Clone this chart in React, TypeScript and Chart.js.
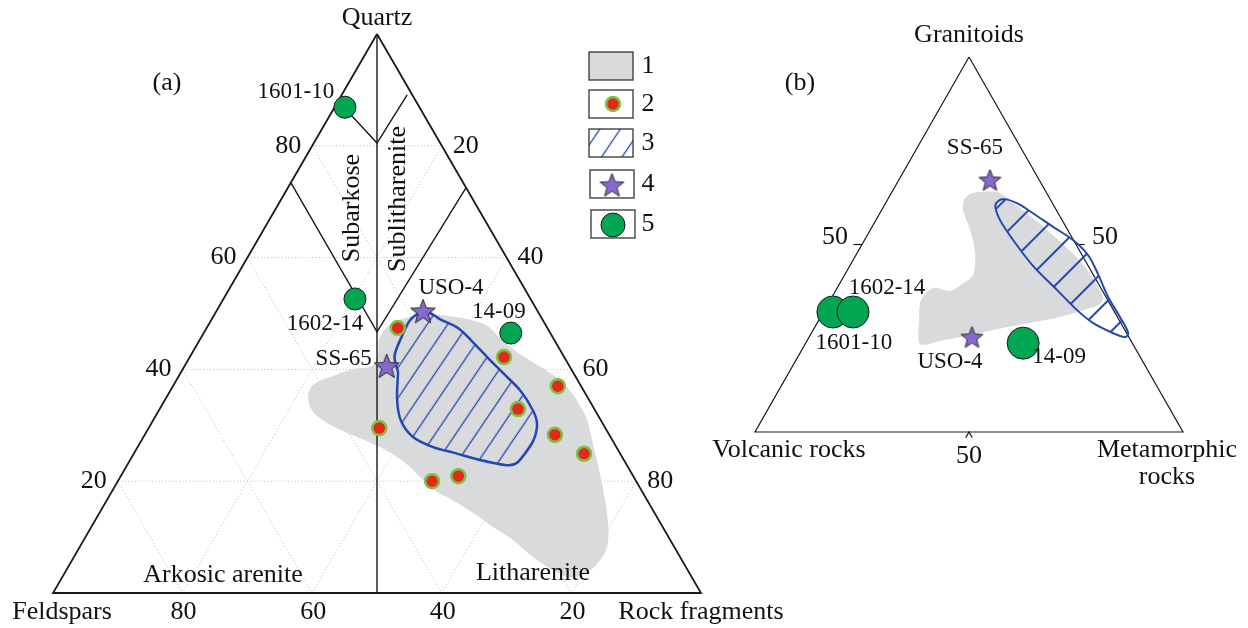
import React, { useEffect, useRef } from "react";
import { Chart, registerables } from "chart.js";

Chart.register(...registerables);

// ===================== DATA =====================
// Panel (a): compositions as [Quartz, Feldspars, Rock fragments] in %
const QFR_TICKS = [20, 40, 60, 80];
const QFR_VERTEX_LABELS = ["Quartz", "Feldspars", "Rock fragments"];
const QFR_FIELD_NAMES = ["Subarkose", "Sublitharenite", "Arkosic arenite", "Litharenite"];

const QFR_CENTER_LINE = [[100, 0, 0], [0, 50, 50]];
const QFR_UPPER_V = [[88, 12, 0], [80.5, 9.75, 9.75], [89.1, 0.8, 10.1]];
const QFR_LOWER_V = [[73.4, 26.6, 0], [46.7, 26.65, 26.65], [72.5, 0, 27.5]];

// field 1 (grey area)
const FIELD1_QFR = [
  [35.1, 43.1, 21.8], [37.2, 41.3, 21.5], [38.8, 37.4, 23.8], [40.1, 33.7, 26.3], [40.6, 30.5, 28.9],
  [42.6, 28.6, 28.9], [45.3, 27.1, 27.7], [47.4, 24.9, 27.7], [48.7, 22.4, 28.9], [49.6, 19.7, 30.8],
  [49.9, 16.9, 33.2], [49.6, 14.4, 36.0], [49.0, 11.6, 39.4], [47.8, 9.1, 43.1], [45.6, 8.2, 46.2],
  [43.1, 6.9, 50.0], [41.3, 5.3, 53.4], [39.0, 3.3, 57.7], [36.9, 2.3, 60.9], [34.5, 1.9, 63.6],
  [30.9, 2.1, 66.9], [26.8, 3.3, 69.9], [21.5, 4.9, 73.7], [16.6, 6.5, 76.9], [11.8, 8.4, 79.8],
  [8.2, 10.4, 81.4], [5.4, 13.2, 81.4], [3.2, 16.6, 80.2], [2.9, 19.2, 77.9], [4.1, 20.8, 75.1],
  [6.4, 22.7, 70.9], [9.5, 24.3, 66.3], [11.8, 26.2, 62.0], [14.3, 28.0, 57.7], [16.6, 30.0, 53.4],
  [18.1, 31.7, 50.2], [20.2, 32.8, 47.0], [22.5, 33.6, 43.8], [24.3, 34.7, 40.9], [26.1, 36.5, 37.4],
  [27.7, 38.8, 33.5], [29.2, 41.1, 29.7], [30.9, 42.9, 26.2], [32.7, 43.7, 23.6],
];
// field 3 (hatched area)
const FIELD3_QFR = [
  [48.8, 20.5, 30.7], [50.1, 18.3, 31.6], [50.1, 16.8, 33.1], [49.0, 15.8, 35.2], [47.4, 13.8, 38.8],
  [45.3, 12.9, 41.9], [42.2, 11.9, 45.9], [39.4, 10.9, 49.8], [36.3, 9.8, 53.9], [32.7, 9.6, 57.7],
  [30.2, 10.2, 59.6], [27.2, 12.3, 60.5], [24.2, 15.6, 60.3], [23.1, 17.2, 59.8], [22.9, 18.8, 58.3],
  [23.8, 22.2, 54.0], [25.0, 25.4, 49.5], [26.1, 28.3, 45.6], [27.9, 30.5, 41.6], [30.8, 30.9, 38.3],
  [34.5, 29.6, 35.8], [39.5, 27.0, 33.5], [43.1, 26.5, 32.0], [46.3, 22.8, 30.8],
];
// field 2 (red dots)
const FIELD2_QFR = [
  [47.4, 23.1, 29.5], [42.2, 9.3, 48.5], [37.0, 3.6, 59.4], [32.9, 11.8, 55.3], [29.5, 34.9, 35.6],
  [28.3, 8.4, 63.3], [24.9, 5.6, 69.5], [20.9, 27.0, 52.1], [20.0, 31.5, 48.5],
];
// field 5 (green circles) and 4 (stars)
const GREEN_SAMPLES = ["1601-10", "1602-14", "14-09"];
const GREEN_QFR = [[86.9, 11.5, 1.6], [52.6, 27.1, 20.3], [46.5, 6.1, 47.4]];
const STAR_SAMPLES = ["USO-4", "SS-65"];
const STAR_QFR = [[50.4, 17.7, 31.9], [40.6, 28.2, 31.2]];

// Panel (b): compositions as [Granitoids, Volcanic rocks, Metamorphic rocks] in %
const GVM_TICKS = [50];
const GVM_VERTEX_LABELS = ["Granitoids", "Volcanic rocks", "Metamorphic", "rocks"];
const FIELD1_GVM = [
  [64.0, 15.4, 20.6], [64.0, 11.5, 24.5], [62.4, 9.9, 27.7], [58.4, 7.3, 34.4], [53.9, 4.8, 41.3],
  [49.1, 2.6, 48.4], [44.8, 1.0, 54.2], [40.3, 0.5, 59.2], [36.0, 0.7, 63.3], [34.1, 2.3, 63.5],
  [32.5, 7.1, 60.4], [30.7, 13.4, 55.9], [29.3, 20.4, 50.3], [28.0, 27.1, 44.9], [26.4, 34.2, 39.4],
  [25.3, 39.4, 35.2], [24.3, 44.6, 31.1], [23.5, 49.7, 26.8], [29.9, 46.7, 23.4], [35.2, 43.6, 21.2],
  [38.4, 39.2, 22.4], [37.6, 35.6, 26.8], [39.5, 31.9, 28.6], [41.9, 28.1, 30.0], [47.7, 24.7, 27.5],
  [53.9, 22.8, 23.3], [59.2, 21.8, 19.0], [61.9, 20.2, 17.9], [63.5, 18.0, 18.5],
];
const FIELD3_GVM = [
  [61.3, 12.8, 25.9], [62.1, 10.8, 27.1], [61.1, 8.3, 30.7], [58.4, 5.9, 35.8], [54.7, 3.0, 42.3],
  [51.2, 0.1, 48.7], [47.2, -1.4, 54.2], [42.1, -1.2, 59.1], [36.0, -0.5, 64.5], [30.7, -0.6, 70.0],
  [26.4, -0.4, 74.0], [25.3, 0.9, 73.8], [26.4, 3.2, 70.4], [29.1, 6.5, 64.4], [32.5, 8.5, 59.0],
  [37.9, 10.5, 51.6], [44.3, 12.9, 42.8], [51.2, 14.1, 34.7], [56.5, 14.5, 29.0], [59.7, 13.9, 26.2],
];
const GREEN_GVM = [[32.0, 65.8, 2.2], [32.0, 61.1, 6.9], [23.7, 25.5, 50.8]];
const STAR_GVM = [[25.3, 36.6, 38.0], [67.2, 11.5, 21.3]];

const LEGEND_LABELS = ["1", "2", "3", "4", "5"];

// ===================== LAYOUT / STYLE =====================
const W = 1248;
const H = 628;
type P2 = [number, number];
type Tri = { top: P2; left: P2; right: P2 };
const TRI_A: Tri = { top: [377, 34], left: [53, 593], right: [701, 593] };
const TRI_B: Tri = { top: [969, 57], left: [755, 432], right: [1183, 432] };

const FONT = "'Liberation Serif', 'Times New Roman', serif";
const BIG = 26;
const SMALL = 23;
const GREY_FILL = "#d9dadb";
const BLUE = "#2448b2";
const RED = "#e2291c";
const RING = "#7cc144";
const GREEN = "#00a651";
const STAR_FILL = "#8768cc";

const LABEL_OFFSET_A: Record<string, P2> = {
  "1601-10": [-49, -15], "1602-14": [-30, 25], "14-09": [-12, -21], "USO-4": [28, -23], "SS-65": [-43, -7],
};
const LABEL_OFFSET_B: Record<string, P2> = {
  "1601-10": [21, 31], "1602-14": [34, -24], "14-09": [36, 14], "USO-4": [-22, 25], "SS-65": [-15, -32],
};

const toXY = (tri: Tri, c: number[]) => {
  const s = c[0] + c[1] + c[2];
  const a = c[0] / s, b = c[1] / s, d = c[2] / s;
  return {
    x: a * tri.top[0] + b * tri.left[0] + d * tri.right[0],
    y: a * tri.top[1] + b * tri.left[1] + d * tri.right[1],
  };
};
const pts = (tri: Tri, arr: number[][]) => arr.map((c) => toXY(tri, c));
// closed outline starting at index k (so the seam falls on a smooth stretch)
const loopFrom = (arr: number[][], k: number) => {
  const r = [...arr.slice(k), ...arr.slice(0, k)];
  return [...r, r[0]];
};

function makeHatch(ctx: CanvasRenderingContext2D, spacing: number, angle: number, width: number) {
  const c = document.createElement("canvas");
  c.width = 16;
  c.height = Math.round(spacing);
  const g = c.getContext("2d")!;
  g.strokeStyle = BLUE;
  g.lineWidth = width;
  g.beginPath();
  g.moveTo(0, c.height / 2);
  g.lineTo(16, c.height / 2);
  g.stroke();
  const p = ctx.createPattern(c, "repeat")!;
  p.setTransform(new DOMMatrix().rotateSelf(-angle));
  return p;
}

function makeStar(R: number, r: number) {
  const size = Math.ceil(R * 2 + 4);
  const c = document.createElement("canvas");
  c.width = size;
  c.height = size;
  const g = c.getContext("2d")!;
  const cx = size / 2, cy = size / 2 + 1;
  g.beginPath();
  for (let i = 0; i < 10; i++) {
    const rad = i % 2 === 0 ? R : r;
    const ang = -Math.PI / 2 + (i * Math.PI) / 5;
    const x = cx + rad * Math.cos(ang), y = cy + rad * Math.sin(ang);
    if (i === 0) g.moveTo(x, y);
    else g.lineTo(x, y);
  }
  g.closePath();
  g.fillStyle = STAR_FILL;
  g.fill();
  g.strokeStyle = "#2a2a2a";
  g.lineWidth = 1;
  g.stroke();
  return c;
}

const lineDs = (data: any[], color: string, width: number, order: number, dash: number[] = []) => ({
  data,
  showLine: true,
  borderColor: color,
  borderWidth: width,
  borderDash: dash,
  pointRadius: 0,
  fill: false,
  tension: 0,
  order,
});

export default function App() {
  const ref = useRef<HTMLCanvasElement>(null);

  useEffect(() => {
    const canvas = ref.current!;
    const ctx0 = canvas.getContext("2d")!;
    const hatchA = makeHatch(ctx0, 17, 56, 1.3);
    const hatchB = makeHatch(ctx0, 24, 45, 2);
    const starA = makeStar(13, 5.5);
    const starB = makeStar(11.5, 5);
    const starLegend = makeStar(12.5, 5.3);

    const datasets: any[] = [];
    // grid lines panel (a)
    QFR_TICKS.forEach((k) => {
      const g = [
        [[k, 100 - k, 0], [k, 0, 100 - k]],
        [[100 - k, k, 0], [0, k, 100 - k]],
        [[100 - k, 0, k], [0, 100 - k, k]],
      ];
      g.forEach((seg) => datasets.push(lineDs(pts(TRI_A, seg), "#c2c2c2", 1, 100, [1.2, 2.2])));
    });
    // fields
    datasets.push({
      data: pts(TRI_A, loopFrom(FIELD1_QFR, 10)), showLine: true, borderWidth: 0, borderColor: "rgba(0,0,0,0)",
      backgroundColor: GREY_FILL, fill: "shape", pointRadius: 0, tension: 0.3, order: 90,
    });
    datasets.push({
      data: pts(TRI_A, loopFrom(FIELD3_QFR, 21)), showLine: true, borderWidth: 2.5, borderColor: BLUE,
      backgroundColor: hatchA, fill: "shape", pointRadius: 0, tension: 0.3, order: 80,
    });
    datasets.push({
      data: pts(TRI_B, loopFrom(FIELD1_GVM, 14)), showLine: true, borderWidth: 0, borderColor: "rgba(0,0,0,0)",
      backgroundColor: GREY_FILL, fill: "shape", pointRadius: 0, tension: 0.3, order: 90,
    });
    // classification lines
    datasets.push(lineDs(pts(TRI_A, QFR_CENTER_LINE), "#1a1a1a", 1.4, 70));
    datasets.push(lineDs(pts(TRI_A, QFR_UPPER_V), "#1a1a1a", 1.4, 70));
    datasets.push(lineDs(pts(TRI_A, QFR_LOWER_V), "#1a1a1a", 1.4, 70));
    // triangle edges
    datasets.push(lineDs(pts(TRI_A, [[100, 0, 0], [0, 100, 0], [0, 0, 100], [100, 0, 0]]), "#1a1a1a", 1.8, 60));
    datasets.push(lineDs(pts(TRI_B, [[100, 0, 0], [0, 100, 0], [0, 0, 100], [100, 0, 0]]), "#1a1a1a", 1.2, 60));
    // ticks panel (b)
    GVM_TICKS.forEach((k) => {
      datasets.push(lineDs(pts(TRI_B, [[k, 100 - k, 0], [k, 100 - k + 2, -2]]), "#1a1a1a", 1.2, 60));
      datasets.push(lineDs(pts(TRI_B, [[k, 0, 100 - k], [k, -2, 100 - k + 2]]), "#1a1a1a", 1.2, 60));
      datasets.push(lineDs(pts(TRI_B, [[-1.5, k, 100 - k + 1.5], [0, k, 100 - k], [-1.5, k + 1.5, 100 - k]]), "#1a1a1a", 1.2, 60));
    });
    // hatched field (b) drawn over triangle edge
    datasets.push({
      data: pts(TRI_B, loopFrom(FIELD3_GVM, 15)), showLine: true, borderWidth: 2, borderColor: BLUE,
      backgroundColor: hatchB, fill: "shape", pointRadius: 0, tension: 0.35, order: 55,
    });
    // points
    datasets.push({
      data: pts(TRI_A, FIELD2_QFR), showLine: false, pointStyle: "circle", pointRadius: 7,
      pointBackgroundColor: RED, pointBorderColor: RING, pointBorderWidth: 2.5, order: 10,
    });
    datasets.push({
      data: pts(TRI_A, GREEN_QFR), showLine: false, pointStyle: "circle", pointRadius: 11,
      pointBackgroundColor: GREEN, pointBorderColor: "#1a1a1a", pointBorderWidth: 1, order: 10,
    });
    datasets.push({
      data: pts(TRI_A, STAR_QFR), showLine: false, pointStyle: starA, pointRadius: 13, order: 5,
    });
    datasets.push({
      data: pts(TRI_B, GREEN_GVM), showLine: false, pointStyle: "circle", pointRadius: 16,
      pointBackgroundColor: GREEN, pointBorderColor: "#1a1a1a", pointBorderWidth: 1, order: 10,
    });
    datasets.push({
      data: pts(TRI_B, STAR_GVM), showLine: false, pointStyle: starB, pointRadius: 12, order: 5,
    });

    const textPlugin = {
      id: "texts",
      afterDraw(chart: any) {
        const ctx: CanvasRenderingContext2D = chart.ctx;
        const sx = chart.scales.x, sy = chart.scales.y;
        const P = (p: { x: number; y: number }): P2 => [sx.getPixelForValue(p.x), sy.getPixelForValue(p.y)];
        const txt = (t: string, x: number, y: number, size = BIG, align: CanvasTextAlign = "center", rot = 0) => {
          ctx.save();
          ctx.translate(x, y);
          if (rot) ctx.rotate(rot);
          ctx.font = `${size}px ${FONT}`;
          ctx.fillStyle = "#111";
          ctx.textAlign = align;
          ctx.textBaseline = "middle";
          ctx.fillText(t, 0, 0);
          ctx.restore();
        };
        // --- panel (a)
        const [qx, qy] = P(toXY(TRI_A, [100, 0, 0]));
        txt(QFR_VERTEX_LABELS[0], qx, qy - 16);
        const [fx, fy] = P(toXY(TRI_A, [0, 100, 0]));
        txt(QFR_VERTEX_LABELS[1], fx + 9, fy + 19);
        const [rx, ry] = P(toXY(TRI_A, [0, 0, 100]));
        txt(QFR_VERTEX_LABELS[2], rx, ry + 19);
        QFR_TICKS.forEach((k) => {
          const [lx, ly] = P(toXY(TRI_A, [k, 100 - k, 0]));
          txt(String(k), lx - 24, ly);
          const [r2x, r2y] = P(toXY(TRI_A, [100 - k, 0, k]));
          txt(String(k), r2x + 24, r2y);
          const [bx, by] = P(toXY(TRI_A, [0, k, 100 - k]));
          txt(String(k), bx + 1, by + 19);
        });
        txt("(a)", 167, 83);
        txt(QFR_FIELD_NAMES[0], 352, 208, BIG, "center", -Math.PI / 2);
        txt(QFR_FIELD_NAMES[1], 398, 199, BIG, "center", -Math.PI / 2);
        txt(QFR_FIELD_NAMES[2], 223, 575);
        txt(QFR_FIELD_NAMES[3], 533, 573);
        GREEN_SAMPLES.forEach((n, i) => {
          const [x, y] = P(toXY(TRI_A, GREEN_QFR[i]));
          const o = LABEL_OFFSET_A[n];
          txt(n, x + o[0], y + o[1], SMALL);
        });
        STAR_SAMPLES.forEach((n, i) => {
          const [x, y] = P(toXY(TRI_A, STAR_QFR[i]));
          const o = LABEL_OFFSET_A[n];
          txt(n, x + o[0], y + o[1], SMALL);
        });
        // --- panel (b)
        const [gx, gy] = P(toXY(TRI_B, [100, 0, 0]));
        txt(GVM_VERTEX_LABELS[0], gx, gy - 22);
        const [vx, vy] = P(toXY(TRI_B, [0, 100, 0]));
        txt(GVM_VERTEX_LABELS[1], vx + 34, vy + 18);
        const [mx, my] = P(toXY(TRI_B, [0, 0, 100]));
        txt(GVM_VERTEX_LABELS[2], mx - 16, my + 18);
        txt(GVM_VERTEX_LABELS[3], mx - 16, my + 45);
        GVM_TICKS.forEach((k) => {
          const [ax, ay] = P(toXY(TRI_B, [k, 100 - k, 0]));
          txt(String(k), ax - 27, ay - 7);
          const [cx, cy] = P(toXY(TRI_B, [k, 0, 100 - k]));
          txt(String(k), cx + 29, cy - 7);
          const [dx, dy] = P(toXY(TRI_B, [0, k, 100 - k]));
          txt(String(k), dx, dy + 24);
        });
        txt("(b)", 800, 83);
        GREEN_SAMPLES.forEach((n, i) => {
          const [x, y] = P(toXY(TRI_B, GREEN_GVM[i]));
          const o = LABEL_OFFSET_B[n];
          txt(n, x + o[0], y + o[1], SMALL);
        });
        STAR_SAMPLES.forEach((n, i) => {
          const [x, y] = P(toXY(TRI_B, STAR_GVM[i]));
          const o = LABEL_OFFSET_B[n];
          txt(n, x + o[0], y + o[1], SMALL);
        });

        // --- legend
        const boxes = [
          [589, 52], [589, 90], [589, 129], [590, 170], [591, 210],
        ];
        const bw = 44, bh = 28;
        boxes.forEach(([x, y], i) => {
          ctx.save();
          ctx.fillStyle = i === 0 ? GREY_FILL : "#fff";
          ctx.fillRect(x, y, bw, bh);
          if (i === 2) {
            ctx.save();
            ctx.beginPath();
            ctx.rect(x, y, bw, bh);
            ctx.clip();
            ctx.fillStyle = hatchA;
            ctx.fillRect(x, y, bw, bh);
            ctx.restore();
          }
          if (i === 1) {
            ctx.beginPath();
            ctx.arc(x + 24, y + 14, 7, 0, Math.PI * 2);
            ctx.fillStyle = RED;
            ctx.fill();
            ctx.lineWidth = 2.5;
            ctx.strokeStyle = RING;
            ctx.stroke();
          }
          if (i === 3) {
            ctx.drawImage(starLegend, x + 22 - starLegend.width / 2, y + 15 - starLegend.height / 2);
          }
          if (i === 4) {
            ctx.beginPath();
            ctx.arc(x + 22, y + 15, 12, 0, Math.PI * 2);
            ctx.fillStyle = GREEN;
            ctx.fill();
            ctx.lineWidth = 1;
            ctx.strokeStyle = "#1a1a1a";
            ctx.stroke();
          }
          ctx.lineWidth = 1.3;
          ctx.strokeStyle = "#333";
          ctx.strokeRect(x, y, bw, bh);
          ctx.restore();
          txt(LEGEND_LABELS[i], 648, y + 14);
        });
      },
    };

    const chart = new Chart(canvas, {
      type: "scatter",
      data: { datasets },
      options: {
        animation: false,
        responsive: false,
        devicePixelRatio: 1,
        events: [],
        layout: { padding: 0, autoPadding: false },
        scales: {
          x: { type: "linear", min: 0, max: W, display: false },
          y: { type: "linear", min: 0, max: H, reverse: true, display: false },
        },
        plugins: { legend: { display: false }, tooltip: { enabled: false } },
      },
      plugins: [textPlugin],
    } as any);
    return () => chart.destroy();
  }, []);

  return (
    <div style={{ position: "absolute", left: 0, top: 0, width: W, height: H, background: "#fff" }}>
      <canvas ref={ref} width={W} height={H} style={{ display: "block", width: W, height: H }} />
    </div>
  );
}
